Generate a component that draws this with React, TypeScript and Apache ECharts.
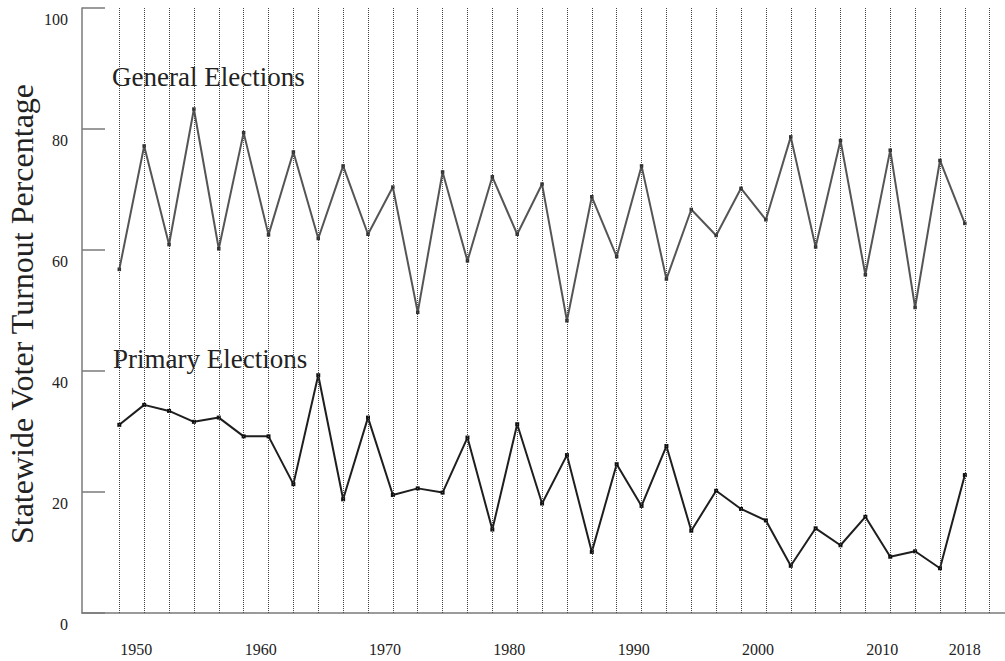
import React, { useEffect, useRef } from "react";
import * as echarts from "echarts";

const years: number[] = [
  1950, 1952, 1954, 1956, 1958, 1960, 1962, 1964, 1966, 1968, 1970, 1972,
  1974, 1976, 1978, 1980, 1982, 1984, 1986, 1988, 1990, 1992, 1994, 1996,
  1998, 2000, 2002, 2004, 2006, 2008, 2010, 2012, 2014, 2016, 2018,
];

const generalTurnout: number[] = [
  56.8, 77.2, 60.9, 83.3, 60.2, 79.4, 62.5, 76.2, 61.9, 73.9, 62.6, 70.4,
  49.7, 72.9, 58.2, 72.1, 62.6, 70.9, 48.3, 68.8, 58.9, 73.9, 55.2, 66.7,
  62.4, 70.2, 65.0, 78.7, 60.5, 78.1, 55.9, 76.5, 50.5, 74.8, 64.4,
];

const primaryTurnout: number[] = [
  31.1, 34.4, 33.4, 31.6, 32.3, 29.2, 29.2, 21.3, 39.3, 18.8, 32.3, 19.5,
  20.6, 19.9, 29.0, 13.8, 31.2, 18.1, 26.1, 10.1, 24.6, 17.7, 27.6, 13.6,
  20.2, 17.2, 15.3, 7.8, 14.0, 11.2, 15.9, 9.3, 10.2, 7.4, 22.8,
];

const gridYears: number[] = [
  1950, 1952, 1954, 1956, 1958, 1960, 1962, 1964, 1966, 1968, 1970, 1972,
  1974, 1976, 1978, 1980, 1982, 1984, 1986, 1988, 1990, 1992, 1994, 1996,
  1998, 2000, 2002, 2004, 2006, 2008, 2010, 2012, 2014, 2016, 2018, 2020,
];

const xTickLabels: number[] = [1950, 1960, 1970, 1980, 1990, 2000, 2010, 2018];
const yTicks: number[] = [0, 20, 40, 60, 80, 100];

const yAxisTitle = "Statewide Voter Turnout Percentage";
const generalLabel = "General Elections";
const primaryLabel = "Primary Elections";

const SERIF = "Liberation Serif";

export default function App() {
  const ref = useRef<HTMLDivElement>(null);

  useEffect(() => {
    if (!ref.current) return;
    const chart = echarts.init(ref.current, null, { renderer: "svg" });
    const option: any = {
      animation: false,
      backgroundColor: "#ffffff",
      textStyle: { fontFamily: SERIF },
      grid: { left: 82, right: 0, top: 8, bottom: 48, containLabel: false },
      xAxis: {
        type: "value",
        min: 1947,
        max: 2021.23,
        axisLine: { show: true, lineStyle: { color: "#7a7a7a", width: 1.5 } },
        axisTick: { show: false },
        splitLine: { show: false },
        axisLabel: {
          customValues: xTickLabels,
          margin: 28,
          fontFamily: SERIF,
          fontSize: 16,
          color: "#222",
          formatter: (v: number) =>
            v === xTickLabels[xTickLabels.length - 1] ? `{b|${v}}` : `{a|${v}}`,
          rich: {
            a: { padding: [0, 0, 0, 34], fontFamily: SERIF, fontSize: 16, color: "#222" },
            b: { fontFamily: SERIF, fontSize: 16, color: "#222" },
          },
        },
      },
      yAxis: {
        type: "value",
        min: yTicks[0],
        max: yTicks[yTicks.length - 1],
        interval: 20,
        axisLine: { show: true, lineStyle: { color: "#7a7a7a", width: 1.5 } },
        axisTick: { show: true, inside: true, length: 23, lineStyle: { color: "#7a7a7a", width: 1.5 } },
        splitLine: { show: false },
        axisLabel: {
          margin: 14,
          verticalAlign: "top",
          lineHeight: 22,
          fontFamily: SERIF,
          fontSize: 16,
          color: "#222",
        },
      },
      series: [
        {
          type: "line",
          data: [],
          z: 1,
          silent: true,
          markLine: {
            silent: true,
            symbol: ["none", "none"],
            label: { show: false },
            lineStyle: { type: "dotted", color: "#444", width: 1 },
            emphasis: { disabled: true },
            data: gridYears.map((y) => ({ xAxis: y })),
          },
        },
        {
          name: generalLabel,
          type: "line",
          z: 3,
          data: years.map((y, i) => [y, generalTurnout[i]]),
          symbol: "rect",
          symbolSize: 3.5,
          itemStyle: { color: "#333" },
          lineStyle: { color: "#555", width: 2 },
        },
        {
          name: primaryLabel,
          type: "line",
          z: 3,
          data: years.map((y, i) => [y, primaryTurnout[i]]),
          symbol: "rect",
          symbolSize: 4,
          itemStyle: { color: "#111" },
          lineStyle: { color: "#1e1e1e", width: 2 },
        },
      ],
      graphic: [
        {
          type: "text",
          x: 22,
          y: 314,
          rotation: Math.PI / 2,
          style: {
            text: yAxisTitle,
            fontFamily: SERIF,
            fontSize: 32,
            fill: "#222",
            align: "center",
            verticalAlign: "middle",
          },
        },
        {
          type: "text",
          x: 112,
          y: 77,
          style: {
            text: generalLabel,
            fontFamily: SERIF,
            fontSize: 27,
            fill: "#222",
            align: "left",
            verticalAlign: "middle",
          },
        },
        {
          type: "text",
          x: 113,
          y: 359,
          style: {
            text: primaryLabel,
            fontFamily: SERIF,
            fontSize: 27,
            fill: "#222",
            align: "left",
            verticalAlign: "middle",
          },
        },
      ],
    };
    chart.setOption(option);
    return () => chart.dispose();
  }, []);

  return (
    <div
      ref={ref}
      style={{ position: "fixed", left: 0, top: 0, width: 1005, height: 661 }}
    />
  );
}
